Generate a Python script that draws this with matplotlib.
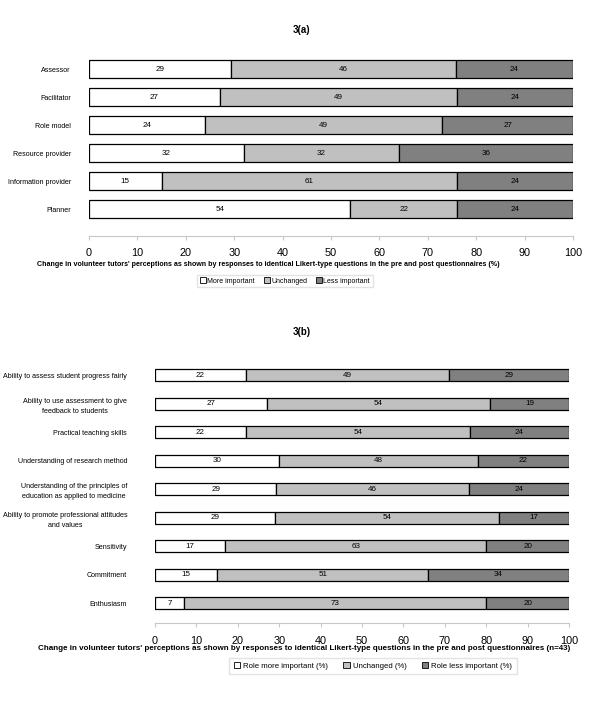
import matplotlib
matplotlib.use("Agg")
import matplotlib.pyplot as plt
from matplotlib import font_manager
import numpy as np

plt.rcParams['font.family'] = ['Liberation Sans', 'DejaVu Sans']
names = {f.name for f in font_manager.fontManager.ttflist}
NARROW = 'Liberation Sans Narrow' if 'Liberation Sans Narrow' in names else 'Liberation Sans'
SHRINK = 1.0 if NARROW == 'Liberation Sans Narrow' else 0.82

# 3(a)
roles_a = ["Assessor", "Facilitator", "Role model", "Resource provider",
           "Information provider", "Planner"]
more_a = [29, 27, 24, 32, 15, 54]
same_a = [46, 49, 49, 32, 61, 22]
less_a = [24, 24, 27, 36, 24, 24]
legend_a = ["More important", "Unchanged", "Less important"]

# 3(b)
roles_b = ["Ability to assess student progress fairly",
           "Ability to use assessment to give\nfeedback to students",
           "Practical teaching skills",
           "Understanding of research method",
           "Understanding of the principles of\neducation as applied to medicine",
           "Ability to promote professional attitudes\nand values",
           "Sensitivity", "Commitment", "Enthusiasm"]
more_b = [22, 27, 22, 30, 29, 29, 17, 15, 7]
same_b = [49, 54, 54, 48, 46, 54, 63, 51, 73]
less_b = [29, 19, 24, 22, 24, 17, 20, 34, 20]
legend_b = ["Role more important (%)", "Unchanged (%)", "Role less important (%)"]

xlabel_a = ("Change in volunteer tutors' perceptions as shown by responses to "
            "identical Likert-type questions in the pre and post questionnaires (%)")
xlabel_b = ("Change in volunteer tutors' perceptions as shown by responses to "
            "identical Likert-type questions in the pre and post questionnaires (n=43)")

colors = ["white", "#c0c0c0", "#808080"]

W, H = 600, 705
fig = plt.figure(figsize=(6, 7.05), dpi=100)


def px_axes(x0, x1, y0, y1):
    # pixel box (top-left origin) -> figure axes
    return fig.add_axes([x0 / W, 1 - y1 / H, (x1 - x0) / W, (y1 - y0) / H])


def stacked(ax, labels, more, same, less, bar_h, ylim, pad):
    data = np.array([more, same, less], dtype=float)
    widths = data / data.sum(axis=0) * 100
    y = np.arange(len(labels))
    left = np.zeros(len(labels))
    for k in range(3):
        ax.barh(y, widths[k], left=left, height=bar_h, color=colors[k],
                edgecolor="black", linewidth=0.9)
        for i in range(len(labels)):
            ax.text(left[i] + widths[k][i] / 2, y[i], str(int(data[k][i])),
                    ha="center", va="center", fontsize=7 * SHRINK, family=NARROW)
        left += widths[k]
    ax.set_xlim(0, 100)
    ax.set_ylim(*ylim)
    ax.set_yticks(y)
    ax.set_yticklabels(labels, fontsize=6.3 * SHRINK, family=NARROW,
                       linespacing=1.6, multialignment="center")
    ax.tick_params(axis="y", length=0, pad=pad)
    ax.set_xticks(np.arange(0, 101, 10))
    ax.tick_params(axis="x", labelsize=7.8, length=3, color="#c8c8c8", pad=6)
    for s in ["top", "right", "left"]:
        ax.spines[s].set_visible(False)
    ax.spines["bottom"].set_color("#c8c8c8")


# top chart
ax1 = px_axes(89, 573, 55, 236)
stacked(ax1, roles_a, more_a, same_a, less_a, 0.64, (5.96, -0.5), 13)
fig.text(268 / W, 1 - 264 / H, xlabel_a, ha="center", va="center",
         fontsize=5.1, fontweight="bold")
fig.text(302 / W, 1 - 30 / H, "3(a)", ha="center", va="center",
         fontsize=7, fontweight="bold")
h1 = [plt.Rectangle((0, 0), 1, 1, fc=c, ec="black", lw=0.6) for c in colors]
fig.legend(h1, legend_a, loc="center", bbox_to_anchor=(285 / W, 1 - 281 / H),
           ncol=3, prop={"family": NARROW, "size": 6.2 * SHRINK}, frameon=True,
           fancybox=False, edgecolor="#dddddd",
           handlelength=0.8, handleheight=0.8, handletextpad=0.2, columnspacing=1.3,
           borderpad=0.4)

# bottom chart
ax2 = px_axes(155, 569, 361, 623)
stacked(ax2, roles_b, more_b, same_b, less_b, 0.42, (8.7, -0.5), 20)
fig.text(304 / W, 1 - 649 / H, xlabel_b, ha="center", va="center",
         fontsize=5.75, fontweight="bold")
fig.text(302 / W, 1 - 332 / H, "3(b)", ha="center", va="center",
         fontsize=7, fontweight="bold")
fig.legend(h1, legend_b, loc="center", bbox_to_anchor=(373 / W, 1 - 666 / H),
           ncol=3, prop={"family": NARROW, "size": 6.8 * SHRINK}, frameon=True,
           fancybox=False, edgecolor="#dddddd",
           handlelength=0.8, handleheight=0.8, handletextpad=0.4, columnspacing=2.0,
           borderpad=0.6)

fig.savefig("out.png", dpi=100, facecolor="white")
